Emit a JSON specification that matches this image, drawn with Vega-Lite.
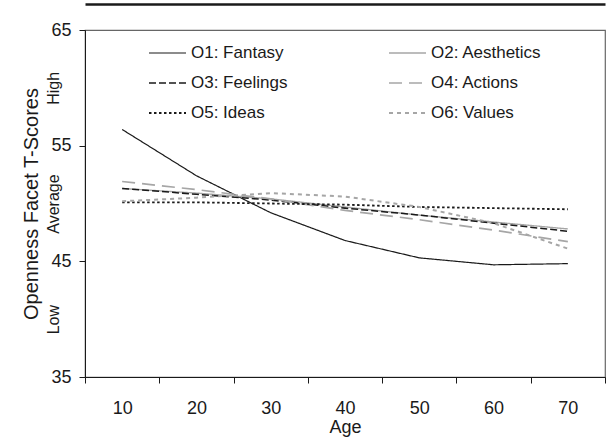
{
  "$schema": "https://vega.github.io/schema/vega-lite/v6.json",
  "width": 520,
  "height": 347,
  "autosize": {"type": "none"},
  "padding": {"left": 85, "top": 30, "right": 3, "bottom": 64},
  "background": "white",
  "config": {
    "font": "Liberation Sans",
    "view": {"stroke": "#666666", "strokeWidth": 1.2},
    "legend": {
      "orient": "none",
      "legendX": 63,
      "legendY": 13,
      "direction": "horizontal",
      "columns": 2,
      "title": null,
      "symbolType": "stroke",
      "symbolSize": 1369,
      "clipHeight": 20,
      "rowPadding": 10,
      "columnPadding": 100,
      "labelFontSize": 17,
      "labelColor": "#1a1a1a",
      "labelOffset": 4,
      "labelLimit": 300,
      "padding": 0
    }
  },
  "data": {
    "values": [
      {"age": 10, "facet": "O1: Fantasy", "score": 56.4},
      {"age": 20, "facet": "O1: Fantasy", "score": 52.4},
      {"age": 30, "facet": "O1: Fantasy", "score": 49.2},
      {"age": 40, "facet": "O1: Fantasy", "score": 46.8},
      {"age": 50, "facet": "O1: Fantasy", "score": 45.3},
      {"age": 60, "facet": "O1: Fantasy", "score": 44.7},
      {"age": 70, "facet": "O1: Fantasy", "score": 44.8},
      {"age": 10, "facet": "O2: Aesthetics", "score": 51.3},
      {"age": 20, "facet": "O2: Aesthetics", "score": 50.9},
      {"age": 30, "facet": "O2: Aesthetics", "score": 50.4},
      {"age": 40, "facet": "O2: Aesthetics", "score": 49.7},
      {"age": 50, "facet": "O2: Aesthetics", "score": 49.0},
      {"age": 60, "facet": "O2: Aesthetics", "score": 48.4},
      {"age": 70, "facet": "O2: Aesthetics", "score": 47.8},
      {"age": 10, "facet": "O3: Feelings", "score": 51.3},
      {"age": 20, "facet": "O3: Feelings", "score": 50.8},
      {"age": 30, "facet": "O3: Feelings", "score": 50.3},
      {"age": 40, "facet": "O3: Feelings", "score": 49.6},
      {"age": 50, "facet": "O3: Feelings", "score": 49.0},
      {"age": 60, "facet": "O3: Feelings", "score": 48.3},
      {"age": 70, "facet": "O3: Feelings", "score": 47.6},
      {"age": 10, "facet": "O4: Actions", "score": 51.9},
      {"age": 20, "facet": "O4: Actions", "score": 51.2},
      {"age": 30, "facet": "O4: Actions", "score": 50.4},
      {"age": 40, "facet": "O4: Actions", "score": 49.4},
      {"age": 50, "facet": "O4: Actions", "score": 48.6},
      {"age": 60, "facet": "O4: Actions", "score": 47.7},
      {"age": 70, "facet": "O4: Actions", "score": 46.7},
      {"age": 10, "facet": "O5: Ideas", "score": 50.1},
      {"age": 20, "facet": "O5: Ideas", "score": 50.1},
      {"age": 30, "facet": "O5: Ideas", "score": 50.0},
      {"age": 40, "facet": "O5: Ideas", "score": 49.9},
      {"age": 50, "facet": "O5: Ideas", "score": 49.7},
      {"age": 60, "facet": "O5: Ideas", "score": 49.6},
      {"age": 70, "facet": "O5: Ideas", "score": 49.5},
      {"age": 10, "facet": "O6: Values", "score": 50.2},
      {"age": 20, "facet": "O6: Values", "score": 50.5},
      {"age": 30, "facet": "O6: Values", "score": 50.9},
      {"age": 40, "facet": "O6: Values", "score": 50.6},
      {"age": 50, "facet": "O6: Values", "score": 49.7},
      {"age": 60, "facet": "O6: Values", "score": 48.3},
      {"age": 70, "facet": "O6: Values", "score": 46.1}
    ]
  },
  "layer": [
    {
      "mark": {"type": "line"},
      "encoding": {
        "x": {
          "field": "age",
          "type": "ordinal",
          "scale": {"type": "band", "paddingInner": 0, "paddingOuter": 0},
          "axis": {
            "orient": "bottom",
            "title": "Age",
            "tickBand": "extent",
            "labelAngle": 0,
            "labelFontSize": 18,
            "labelColor": "#1a1a1a",
            "labelPadding": 16,
            "tickSize": 6,
            "domainColor": "#1a1a1a",
            "tickColor": "#1a1a1a",
            "titleFontSize": 18,
            "titleFontWeight": "normal",
            "titleColor": "#1a1a1a",
            "titlePadding": 1
          }
        },
        "y": {
          "field": "score",
          "type": "quantitative",
          "scale": {"domain": [35, 65], "nice": false, "zero": false},
          "axis": {
            "orient": "left",
            "values": [35, 45, 55, 65],
            "grid": false,
            "title": "Openness Facet T-Scores",
            "titleFontSize": 20,
            "titleFontWeight": "normal",
            "titleColor": "#1a1a1a",
            "titlePadding": 9,
            "labelFontSize": 18,
            "labelColor": "#1a1a1a",
            "labelPadding": 8,
            "tickSize": 6,
            "domainColor": "#1a1a1a",
            "tickColor": "#1a1a1a"
          }
        },
        "color": {
          "field": "facet",
          "type": "nominal",
          "scale": {
            "domain": ["O1: Fantasy", "O2: Aesthetics", "O3: Feelings", "O4: Actions", "O5: Ideas", "O6: Values"],
            "range": ["#1a1a1a", "#a6a6a6", "#1a1a1a", "#a6a6a6", "#1a1a1a", "#a6a6a6"]
          }
        },
        "strokeDash": {
          "field": "facet",
          "type": "nominal",
          "scale": {
            "domain": ["O1: Fantasy", "O2: Aesthetics", "O3: Feelings", "O4: Actions", "O5: Ideas", "O6: Values"],
            "range": [[1, 0], [1, 0], [7, 3], [13, 7], [2.5, 2.5], [4, 4]]
          }
        },
        "strokeWidth": {
          "field": "facet",
          "type": "nominal",
          "scale": {
            "domain": ["O1: Fantasy", "O2: Aesthetics", "O3: Feelings", "O4: Actions", "O5: Ideas", "O6: Values"],
            "range": [1.2, 2, 2, 2.5, 2, 2.5]
          }
        }
      }
    },
    {
      "mark": {"type": "point", "opacity": 0},
      "encoding": {
        "x": {
          "field": "age",
          "type": "ordinal",
          "axis": {
            "orient": "top",
            "offset": 26,
            "domainWidth": 2.5,
            "domainColor": "#1a1a1a",
            "labels": false,
            "ticks": false,
            "title": null
          }
        },
        "y": {
          "field": "score",
          "type": "quantitative",
          "axis": {
            "orient": "left",
            "values": [40, 50, 60],
            "labelExpr": "datum.value == 60 ? 'High' : datum.value == 50 ? 'Average' : 'Low'",
            "labelAngle": -90,
            "labelAlign": "center",
            "labelBaseline": "bottom",
            "labelFontSize": 16,
            "labelColor": "#1a1a1a",
            "domain": false,
            "ticks": false,
            "labelPadding": 24,
            "grid": false,
            "title": null
          }
        }
      }
    }
  ],
  "resolve": {"axis": {"x": "independent", "y": "independent"}}
}
